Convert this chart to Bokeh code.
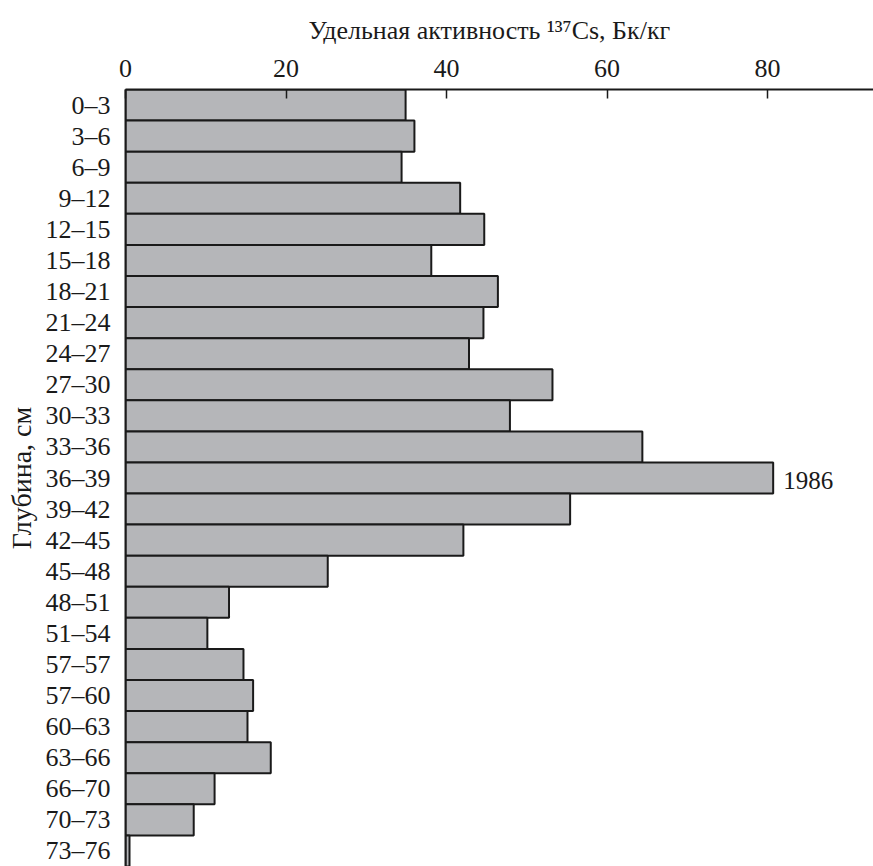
from bokeh.plotting import figure
from bokeh.models import FactorRange, Range1d, FixedTicker, ColumnDataSource, Title
from bokeh.core.properties import value
from bokeh.embed import file_html
from bokeh.resources import INLINE

depths = ["0–3", "3–6", "6–9", "9–12", "12–15", "15–18", "18–21", "21–24",
          "24–27", "27–30", "30–33", "33–36", "36–39", "39–42", "42–45",
          "45–48", "48–51", "51–54", "57–57", "57–60", "60–63", "63–66",
          "66–70", "70–73", "73–76"]
activity = [34.9, 36.0, 34.4, 41.7, 44.7, 38.1, 46.4, 44.6,
            42.8, 53.2, 47.9, 64.4, 80.7, 55.4, 42.1,
            25.2, 12.9, 10.2, 14.7, 15.9, 15.2, 18.1,
            11.1, 8.5, 0.5]
x_ticks = [0, 20, 40, 60, 80]
peak_depth = ["36–39"]
peak_label = ["1986"]
x_title = "Удельная активность ¹³⁷Cs, Бк/кг"
y_title = "Глубина, см"

FONT = "Liberation Serif"
INK = "#1a1a1a"

src = ColumnDataSource(dict(depth=depths, act=activity))

p = figure(width=873, height=866, output_backend="svg", toolbar_location=None,
           y_range=FactorRange(factors=list(reversed(depths)), range_padding=0),
           x_range=Range1d(0, 93.2), x_axis_location="above",
           min_border_left=125, min_border_top=89, min_border_right=0,
           min_border_bottom=0)
p.outline_line_color = None
p.grid.grid_line_color = None
p.background_fill_color = "white"

p.hbar(y="depth", right="act", left=0, height=1.0, source=src,
       fill_color="#b5b6b9", line_color=INK, line_width=2)

peak_x = [activity[depths.index(d)] for d in peak_depth]
p.text(x=peak_x, y=peak_depth, text=peak_label, x_offset=10, y_offset=2,
       text_font=value(FONT), text_font_size="25px", text_baseline="middle",
       text_align="left", text_color=INK)

xa = p.xaxis[0]
xa.ticker = FixedTicker(ticks=x_ticks)
xa.major_tick_in = 9
xa.major_tick_out = 0
xa.minor_tick_line_color = None
xa.major_tick_line_width = 1.5
xa.axis_line_width = 2
xa.axis_line_color = INK
xa.major_tick_line_color = INK
xa.major_label_text_font = FONT
xa.major_label_text_font_size = "26px"
xa.major_label_text_color = INK
xa.major_label_standoff = 13

ya = p.yaxis[0]
ya.major_tick_line_color = None
ya.minor_tick_line_color = None
ya.axis_line_width = 2
ya.axis_line_color = INK
ya.major_label_text_font = FONT
ya.major_label_text_font_size = "26px"
ya.major_label_text_color = INK
ya.major_label_standoff = 9
ya.axis_label = y_title
ya.axis_label_text_font = FONT
ya.axis_label_text_font_size = "28px"
ya.axis_label_text_font_style = "normal"
ya.axis_label_text_color = INK
ya.axis_label_standoff = 6

p.add_layout(Title(text=x_title, align="left", offset=183, standoff=24,
                   text_font=FONT, text_font_size="26px",
                   text_font_style="normal", text_color=INK), "above")

open("out.html", "w").write(file_html(p, INLINE))
